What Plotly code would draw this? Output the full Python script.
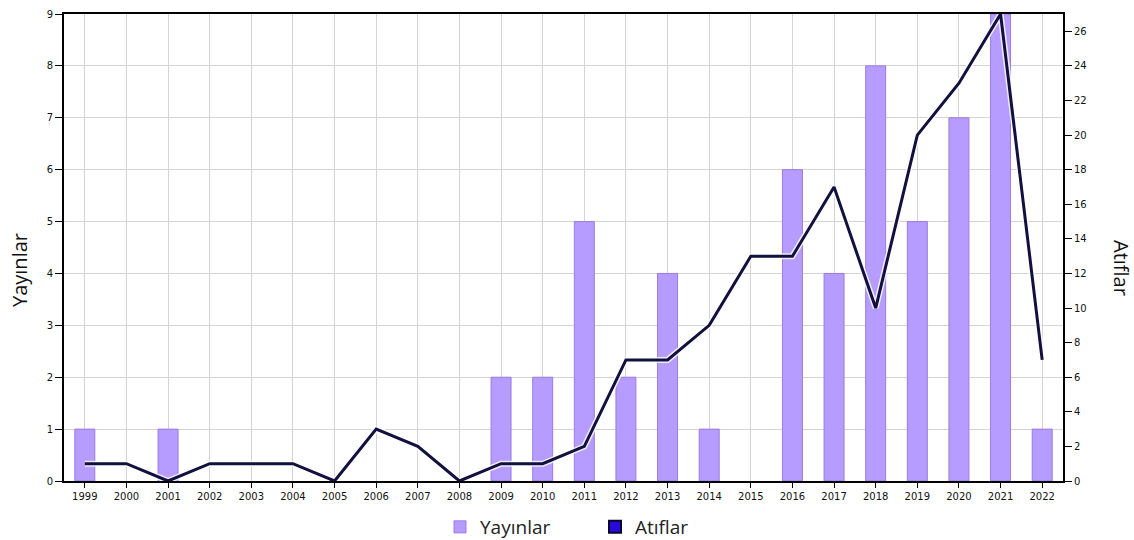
import plotly.graph_objects as go

years = [str(y) for y in range(1999, 2023)]
yayinlar = [1, 0, 1, 0, 0, 0, 0, 0, 0, 0, 2, 2, 5, 2, 4, 1, 0, 6, 4, 8, 5, 7, 9, 1]
atiflar = [1, 1, 0, 1, 1, 1, 0, 3, 2, 0, 1, 1, 2, 7, 7, 9, 13, 13, 17, 10, 20, 23, 27, 7]

left_ticks = list(range(0, 10))
right_ticks = list(range(0, 27, 2))

BAR_FILL = "#b79cff"
BAR_EDGE = "#9a7be0"
LINE_COL = "#12103f"
LEGEND_LINE = "#2a0ad8"

fig = go.Figure()

fig.add_trace(go.Bar(
    x=years, y=yayinlar, name="Yayınlar", yaxis="y",
    width=0.48,
    marker=dict(color=BAR_FILL,
                line=dict(color=BAR_EDGE, width=[1 if v > 0 else 0 for v in yayinlar])),
))

# soft light halo under the citation line
fig.add_trace(go.Scatter(
    x=years, y=atiflar, yaxis="y2", mode="lines",
    line=dict(color="rgba(255,255,255,0.8)", width=6),
    showlegend=False, hoverinfo="skip",
))
fig.add_trace(go.Scatter(
    x=years, y=atiflar, yaxis="y2", mode="lines",
    line=dict(color=LINE_COL, width=3),
    name="Atıflar", showlegend=False,
))
# legend swatch for the citation series
fig.add_trace(go.Bar(
    x=[None], y=[None], name="Atıflar", yaxis="y",
    marker=dict(color=LEGEND_LINE, line=dict(color="#0a0630", width=2)),
))

tick_font = dict(family="DejaVu Sans", size=10, color="#111111")

pw = 1134 - 64 - 71
ph = 540 - 14 - 59

fig.update_layout(
    width=1134, height=540,
    margin=dict(l=64, r=71, t=14, b=59, autoexpand=False),
    paper_bgcolor="white", plot_bgcolor="white",
    showlegend=True,
    legend=dict(
        orientation="h", x=(440 - 64) / pw, xanchor="left",
        yref="container", y=(540 - 527) / 540, yanchor="middle",
        font=dict(family="Open Sans", size=19, color="#222222"),
        entrywidth=110, entrywidthmode="pixels", traceorder="normal",
    ),
    xaxis=dict(
        type="category", categoryorder="array", categoryarray=years,
        range=[-0.5, 23.5],
        showgrid=True, gridcolor="#d4d4d4", gridwidth=1,
        showline=True, linecolor="black", linewidth=2, mirror=True,
        ticks="outside", ticklen=5, tickcolor="black",
        tickfont=tick_font, tickangle=0,
    ),
    yaxis=dict(
        range=[0, 9], tickvals=left_ticks,
        showgrid=True, gridcolor="#d4d4d4", gridwidth=1,
        showline=True, linecolor="black", linewidth=2,
        ticks="outside", ticklen=7, tickcolor="black",
        tickfont=tick_font, zeroline=False,
    ),
    yaxis2=dict(
        range=[0, 27], tickvals=right_ticks,
        overlaying="y", side="right",
        showgrid=False,
        showline=True, linecolor="black", linewidth=2,
        ticks="outside", ticklen=7, tickcolor="black",
        tickfont=tick_font, zeroline=False,
    ),
    annotations=[
        dict(text="Yayınlar", x=(19 - 64) / pw, y=(481 - 270) / ph,
             xref="paper", yref="paper", xanchor="center", yanchor="middle",
             showarrow=False, textangle=-90,
             font=dict(family="Open Sans", size=20, color="#111111")),
        dict(text="Atıflar", x=(1122 - 64) / pw, y=(481 - 268) / ph,
             xref="paper", yref="paper", xanchor="center", yanchor="middle",
             showarrow=False, textangle=90,
             font=dict(family="Open Sans", size=20, color="#111111")),
    ],
)

fig.write_html("out.html")
